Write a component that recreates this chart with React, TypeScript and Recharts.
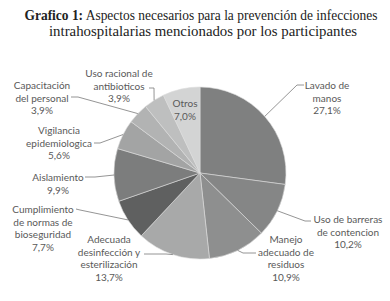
import React from "react";
import { PieChart, Pie, Cell } from "recharts";

const categories = [
  ["Lavado de", "manos"],
  ["Uso de barreras", "de contencion"],
  ["Manejo", "adecuado de", "residuos"],
  ["Adecuada", "desinfección y", "esterilización"],
  ["Cumplimiento", "de normas de", "bioseguridad"],
  ["Aislamiento"],
  ["Vigilancia", "epidemiologica"],
  ["Capacitación", "del personal"],
  ["Uso racional de", "antibioticos"],
  ["Otros"],
];
const values = [27.1, 10.2, 10.9, 13.7, 7.7, 9.9, 5.6, 3.9, 3.9, 7.0];
const valueLabels = ["27,1%", "10,2%", "10,9%", "13,7%", "7,7%", "9,9%", "5,6%", "3,9%", "3,9%", "7,0%"];

const colors = ["#7f8080", "#858686", "#8e8f8f", "#a8a9a9", "#5f6060", "#7c7d7d", "#a3a4a4", "#b2b3b3", "#bebfbf", "#d3d4d4"];

// label layout relative to pie centre: text centre x, first line y, leader end / elbow
const labelLayout = [
  { tx: 127, ty: -88, end: [104, -88], elbow: [97, -88] },
  { tx: 148, ty: 46, end: [111, 48], elbow: [105, 48] },
  { tx: 86, ty: 66, end: [56, 80], elbow: [43, 80] },
  { tx: -91, ty: 66, end: [-56, 81], elbow: [-34, 81] },
  { tx: -157, ty: 36, end: [-124, 36], elbow: [-120, 37] },
  { tx: -142, ty: 4, end: [-115, 4], elbow: [-105, 4] },
  { tx: -141, ty: -43, end: [-106, -30], elbow: [-100, -30] },
  { tx: -158, ty: -88, end: [-129, -76], elbow: [-122, -76] },
  { tx: -81, ty: -100, end: [-51, -85], elbow: [-46, -85] },
  { tx: -15, ty: -70, end: null, elbow: null },
];

const data = values.map((v, i) => ({ name: categories[i].join(" "), value: v }));

const RAD = Math.PI / 180;
const LINE_H = 12.6;

const renderLabel = (props: any) => {
  const { cx, cy, midAngle, outerRadius, index } = props;
  const lay = labelLayout[index];
  const lines = [...categories[index], valueLabels[index]];
  const ex = cx + outerRadius * Math.cos(-midAngle * RAD);
  const ey = cy + outerRadius * Math.sin(-midAngle * RAD);
  return (
    <g key={`lbl-${index}`}>
      {lay.end && lay.elbow && (
        <polyline
          points={`${ex},${ey} ${cx + lay.elbow[0]},${cy + lay.elbow[1]} ${cx + lay.end[0]},${cy + lay.end[1]}`}
          fill="none"
          stroke="#7a7a7a"
          strokeWidth={0.8}
        />
      )}
      <text
        x={cx + lay.tx}
        y={cy + lay.ty}
        textAnchor="middle"
        dominantBaseline="central"
        fontFamily="Lato, 'Open Sans', sans-serif"
        fontSize={10}
        fill="#595959"
      >
        {lines.map((l, k) => (
          <tspan key={k} x={cx + lay.tx} dy={k === 0 ? 0 : LINE_H}>
            {l}
          </tspan>
        ))}
      </text>
    </g>
  );
};

export default function App() {
  return (
    <div style={{ position: "absolute", left: 0, top: 0, width: 390, height: 301, background: "#fff" }}>
      <svg width={390} height={40} style={{ position: "absolute", left: 0, top: 0 }}>
        <text
          x={201}
          y={20}
          textAnchor="middle"
          fontFamily="'Liberation Serif', 'DejaVu Serif', serif"
          fontSize={14}
          fill="#222"
          textLength={353}
          lengthAdjust="spacingAndGlyphs"
        >
          <tspan fontWeight="bold">Grafico 1:</tspan>
          <tspan> Aspectos necesarios para la prevención de infecciones</tspan>
        </text>
        <text
          x={203}
          y={36}
          textAnchor="middle"
          fontFamily="'Liberation Serif', 'DejaVu Serif', serif"
          fontSize={14}
          fill="#222"
          textLength={308}
          lengthAdjust="spacingAndGlyphs"
        >
          intrahospitalarias mencionados por los participantes
        </text>
      </svg>
      <div style={{ position: "absolute", left: 0, top: 0 }}>
        <PieChart width={390} height={301} margin={{ top: 0, right: 0, bottom: 0, left: 0 }}>
          <Pie
            data={data}
            dataKey="value"
            nameKey="name"
            cx={200}
            cy={173}
            outerRadius={86}
            startAngle={90}
            endAngle={-270}
            stroke="#dcdcdc"
            strokeWidth={0.6}
            label={renderLabel}
            labelLine={false}
            isAnimationActive={false}
          >
            {data.map((_, i) => (
              <Cell key={i} fill={colors[i]} />
            ))}
          </Pie>
        </PieChart>
      </div>
    </div>
  );
}
